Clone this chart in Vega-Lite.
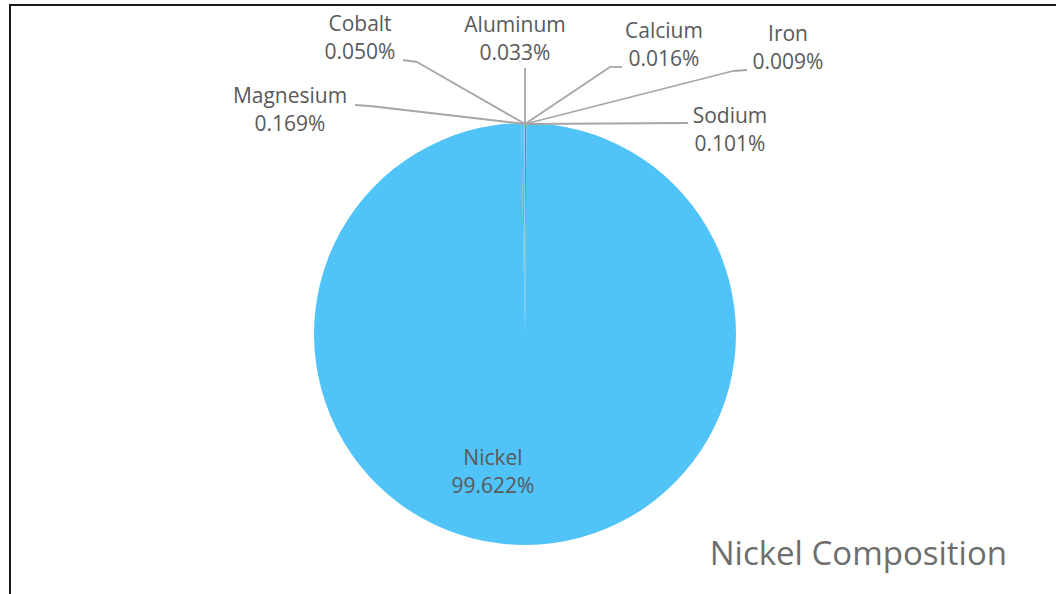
{
  "$schema": "https://vega.github.io/schema/vega-lite/v6.json",
  "width": 1056,
  "height": 594,
  "autosize": {"type": "fit", "contains": "padding"},
  "padding": {"left": 10, "top": 5, "right": -6, "bottom": -6},
  "background": "white",
  "view": {"stroke": "#1a1a1a", "strokeWidth": 2},
  "config": {"font": "Open Sans"},
  "datasets": {
    "composition": [
      {"element": "Sodium", "pct": 0.101, "ord": 1},
      {"element": "Nickel", "pct": 99.622, "ord": 2},
      {"element": "Magnesium", "pct": 0.169, "ord": 3},
      {"element": "Cobalt", "pct": 0.050, "ord": 4},
      {"element": "Aluminum", "pct": 0.033, "ord": 5},
      {"element": "Calcium", "pct": 0.016, "ord": 6},
      {"element": "Iron", "pct": 0.009, "ord": 7}
    ],
    "labelLayout": [
      {"element": "Cobalt", "lx": -165, "ly": 295, "ex": -108, "ey": 272, "fx": -122, "fy": 274},
      {"element": "Aluminum", "lx": -10, "ly": 294, "ex": 0, "ey": 266, "fx": 0, "fy": 266},
      {"element": "Calcium", "lx": 139, "ly": 288, "ex": 85, "ey": 267, "fx": 97, "fy": 267},
      {"element": "Iron", "lx": 263, "ly": 285, "ex": 208, "ey": 263, "fx": 222, "fy": 264},
      {"element": "Magnesium", "lx": -235, "ly": 223, "ex": -155, "ey": 228, "fx": -170, "fy": 229},
      {"element": "Sodium", "lx": 205, "ly": 203, "ex": 163, "ey": 211, "fx": 163, "fy": 211},
      {"element": "Nickel", "lx": -32, "ly": -139}
    ]
  },
  "layer": [
    {
      "data": {"name": "composition"},
      "mark": {"type": "arc", "outerRadius": 211},
      "encoding": {
        "theta": {"field": "pct", "type": "quantitative", "stack": true},
        "order": {"field": "ord", "type": "quantitative"},
        "color": {
          "field": "element",
          "type": "nominal",
          "scale": {
            "domain": ["Sodium", "Nickel", "Magnesium", "Cobalt", "Aluminum", "Calcium", "Iron"],
            "range": ["#6F9A47", "#50C3F8", "#4BBBEE", "#52BFF2", "#4CB9EC", "#55C1F4", "#4EBDF0"]
          },
          "legend": null
        },
        "x": {"datum": 0, "type": "quantitative", "scale": {"domain": [-515, 537], "nice": false, "zero": false}, "axis": null},
        "y": {"datum": 0, "type": "quantitative", "scale": {"domain": [-266, 329], "nice": false, "zero": false}, "axis": null}
      }
    },
    {
      "data": {"name": "labelLayout"},
      "transform": [{"filter": "isValid(datum.ex)"}],
      "mark": {"type": "rule", "color": "#A6A6A6", "strokeWidth": 1.8},
      "encoding": {
        "x": {"field": "ex", "type": "quantitative", "scale": {"domain": [-515, 537], "nice": false, "zero": false}, "axis": null},
        "x2": {"datum": 0},
        "y": {"field": "ey", "type": "quantitative", "scale": {"domain": [-266, 329], "nice": false, "zero": false}, "axis": null},
        "y2": {"datum": 210}
      }
    },
    {
      "data": {"name": "labelLayout"},
      "transform": [{"filter": "isValid(datum.ex)"}],
      "mark": {"type": "rule", "color": "#A6A6A6", "strokeWidth": 1.8},
      "encoding": {
        "x": {"field": "ex", "type": "quantitative", "scale": {"domain": [-515, 537], "nice": false, "zero": false}, "axis": null},
        "x2": {"field": "fx"},
        "y": {"field": "ey", "type": "quantitative", "scale": {"domain": [-266, 329], "nice": false, "zero": false}, "axis": null},
        "y2": {"field": "fy"}
      }
    },
    {
      "data": {"name": "labelLayout"},
      "mark": {"type": "text", "fontSize": 21, "color": "#595959", "align": "center", "baseline": "middle", "dy": -14},
      "encoding": {
        "x": {"field": "lx", "type": "quantitative", "scale": {"domain": [-515, 537], "nice": false, "zero": false}, "axis": null},
        "y": {"field": "ly", "type": "quantitative", "scale": {"domain": [-266, 329], "nice": false, "zero": false}, "axis": null},
        "text": {"field": "element", "type": "nominal"}
      }
    },
    {
      "data": {"name": "labelLayout"},
      "transform": [
        {"lookup": "element", "from": {"data": {"name": "composition"}, "key": "element", "fields": ["pct"]}},
        {"calculate": "format(datum.pct, '.3f') + '%'", "as": "pctLabel"}
      ],
      "mark": {"type": "text", "fontSize": 21, "color": "#595959", "align": "center", "baseline": "middle", "dy": 14},
      "encoding": {
        "x": {"field": "lx", "type": "quantitative", "scale": {"domain": [-515, 537], "nice": false, "zero": false}, "axis": null},
        "y": {"field": "ly", "type": "quantitative", "scale": {"domain": [-266, 329], "nice": false, "zero": false}, "axis": null},
        "text": {"field": "pctLabel", "type": "nominal"}
      }
    },
    {
      "data": {"values": [{"caption": "Nickel Composition"}]},
      "mark": {"type": "text", "fontSize": 33, "color": "#6E6E6E", "align": "right", "baseline": "middle"},
      "encoding": {
        "x": {"datum": 482, "type": "quantitative", "scale": {"domain": [-515, 537], "nice": false, "zero": false}, "axis": null},
        "y": {"datum": -221, "type": "quantitative", "scale": {"domain": [-266, 329], "nice": false, "zero": false}, "axis": null},
        "text": {"field": "caption", "type": "nominal"}
      }
    }
  ]
}
